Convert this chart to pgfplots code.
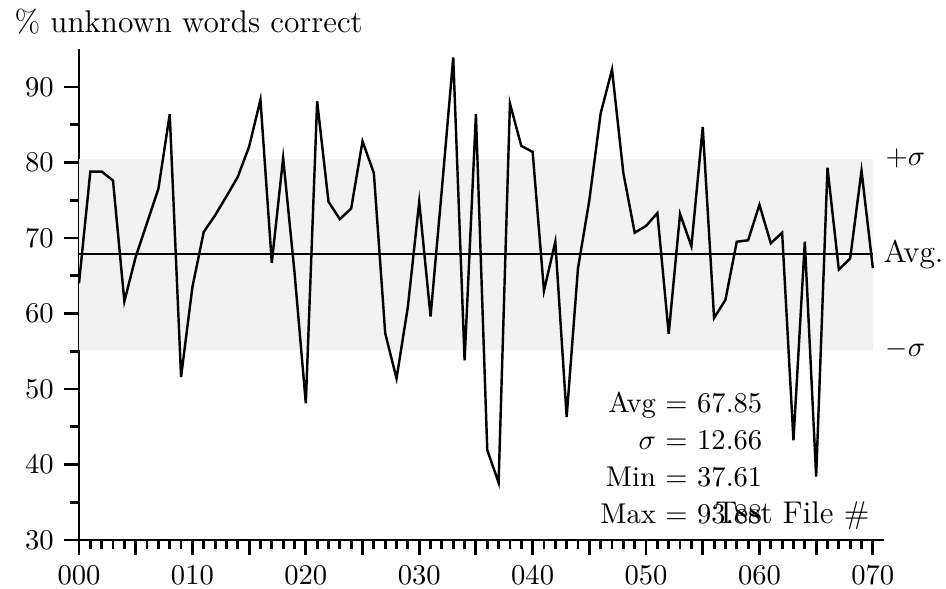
\documentclass[border=0pt]{standalone}
\usepackage{pgfplots}
\usepackage{pgfplotstable}
\pgfplotsset{compat=1.18}
\pgfplotstableread{
x y
0 64.0
1 78.8
2 78.8
3 77.6
4 61.6
5 67.5
6 72.0
7 76.5
8 86.4
9 51.6
10 63.5
11 70.8
12 73.0
13 75.5
14 78.1
15 82.1
16 88.3
17 66.7
18 80.6
19 65.5
20 48.1
21 88.1
22 74.8
23 72.5
24 73.9
25 82.8
26 78.6
27 57.4
28 51.4
29 60.9
30 74.8
31 59.6
32 76.5
33 93.9
34 53.8
35 86.4
36 41.9
37 37.6
38 87.8
39 82.2
40 81.4
41 63.0
42 69.5
43 46.3
44 66.0
45 75.0
46 86.5
47 92.3
48 78.6
49 70.7
50 71.6
51 73.3
52 57.3
53 73.2
54 68.9
55 84.7
56 59.4
57 61.8
58 69.5
59 69.7
60 74.4
61 69.3
62 70.7
63 43.2
64 69.5
65 38.4
66 79.3
67 65.8
68 67.3
69 78.9
70 66.0
}\datatable
\begin{document}
\begin{tikzpicture}
\begin{axis}[
  scale only axis,
  width=281.8pt, height=171.76pt,
  xmin=0, xmax=71, ymin=30, ymax=95,
  axis x line*=bottom, axis y line*=left,
  axis line style={line width=0.9pt, -},
  tick align=outside,
  xtick={0,5,...,70},
  xticklabels={000,,010,,020,,030,,040,,050,,060,,070},
  minor x tick num=4,
  ytick={30,40,...,90},
  minor ytick={35,45,...,85},
  major tick length=5.3pt,
  minor tick length=3.3pt,
  tick style={black, line width=1pt},
  clip=false,
]
\addplot[fill=black!5, draw=none] coordinates {(0,55.19) (70,55.19) (70,80.51) (0,80.51)} -- cycle;
\addplot[black, line width=0.85pt] coordinates {(0,67.85) (70,67.85)};
\addplot[black, line width=0.85pt, line join=miter] table[x=x, y=y] {\datatable};
\node[anchor=base west, inner sep=0, font=\fontsize{11}{13}\selectfont] at (axis cs:-5.73,97.15) {\% unknown words correct};
\node[anchor=base east, inner sep=0] at (axis cs:60.3,46.82) {Avg $=$ $67.85$};
\node[anchor=base east, inner sep=0] at (axis cs:60.3,41.92) {$\sigma$ $=$ $12.66$};
\node[anchor=base east, inner sep=0] at (axis cs:60.3,37.02) {Min $=$ $37.61$};
\node[anchor=base east, inner sep=0] at (axis cs:60.3,32.25) {Max $=$ $93.88$};
\node[anchor=base east, inner sep=0, font=\fontsize{11}{13}\selectfont] at (axis cs:69.75,32.25) {Test File \#};
\node[anchor=west, inner sep=0] at (axis cs:71.08,80.51) {$+\sigma$};
\node[anchor=west, inner sep=0, font=\fontsize{11}{13}\selectfont] at (axis cs:70.9,67.85) {Avg.};
\node[anchor=west, inner sep=0] at (axis cs:71.08,55.19) {$-\sigma$};
\coordinate (bbl) at (axis cs:-6.966,23.64);
\coordinate (btr) at (axis cs:76.45,101.52);
\end{axis}
\pgfresetboundingbox
\useasboundingbox (bbl) rectangle (btr);
\end{tikzpicture}
\end{document}
